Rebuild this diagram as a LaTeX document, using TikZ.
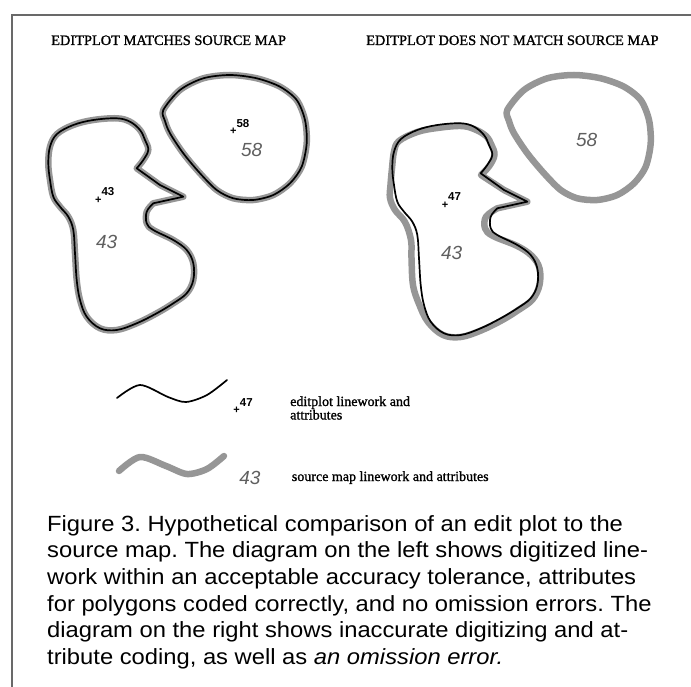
\documentclass[tikz,border=0pt]{standalone}
\usepackage{fontspec}
\setmainfont{Liberation Serif}
\setsansfont{Liberation Sans}
\newfontfamily\headfont[FakeBold=1.2]{Liberation Serif}
\newfontfamily\capfont[FakeStretch=1.08]{Liberation Sans}
\usetikzlibrary{positioning}
\definecolor{SrcGray}{RGB}{150,150,150}
\definecolor{NumGray}{RGB}{95,95,95}
\definecolor{FrameGray}{RGB}{105,105,105}
% polygon 58 (teardrop) and polygon 43 (with the beak)
\newcommand{\dropshape}{plot[smooth cycle] coordinates {(163.3,110) (180,90) (203.3,78.3) (230,75) (256.7,78.3) (280,86.7) (296.7,100) (305,120) (306.7,143.3) (301.7,166.7) (290,183.3) (273.3,195) (253.3,200) (233.3,198.3) (216.7,190) (200,173.3) (183.3,153.3) (170,133.3) (165,121)}}
\newcommand{\blobshape}{plot[smooth, tension=.6] coordinates {(153.3,203.3) (146.7,211.7) (146.7,223.3) (153.3,230) (173.3,240) (186.7,250) (193.3,263.3) (193.3,280) (186.7,293.3) (173.3,303.3) (156.7,313.3) (136.7,323.3) (116.7,330) (100,328.3) (86.7,316.7) (80,300) (76.7,280) (75,253.3) (73.3,230) (68.3,216.7) (60,206.7) (53.3,196.7) (50,180) (48.3,163.3) (50,146.7) (57,134) (73.3,125) (93.3,120) (116.7,118.3) (130,121.7) (140,130) (145,140) (148.3,150) (143.3,160) (136.7,168.3)} -- (160,185) -- (183.3,196.7) -- cycle}

\begin{document}
\begin{tikzpicture}[x=1pt,y=-1pt,
    source/.style={draw=SrcGray,line width=6.5pt,line join=round,line cap=round},
    edit/.style={draw=black,line width=1.7pt,line join=round,line cap=round},
    head/.style={font=\fontsize{14.4}{16}\headfont,inner sep=0pt},
    bignum/.style={font=\fontsize{19}{20}\sffamily\itshape,text=NumGray,inner sep=0pt},
    plusmk/.style={font=\fontsize{11}{12}\sffamily\bfseries,inner sep=0pt},
    idlab/.style={font=\fontsize{11.5}{12}\sffamily\bfseries,inner sep=0pt},
    legtxt/.style={font=\fontsize{14}{14}\headfont,inner sep=0pt},
    captxt/.style={font=\fontsize{22}{26.7}\capfont\frenchspacing,inner sep=0pt}]
  \useasboundingbox (0,0) rectangle (691,687);
  % frame
  \draw[FrameGray,line width=1.6pt] (12,687) -- (12,15) -- (691,15);

  \node[head,anchor=base west] (hleft) at (51,45) {EDITPLOT MATCHES SOURCE MAP};
  \node[head,anchor=base west] (hright) at (366,45) {EDITPLOT DOES NOT MATCH SOURCE MAP};

  % left: editplot matches source map
  \draw[source] \dropshape;
  \draw[edit] \dropshape;
  \draw[source] \blobshape;
  \draw[edit] \blobshape;
  \node[plusmk] (p43) at (98.3,200) {+};
  \node[idlab,anchor=base west] (l43) at ([xshift=3pt,yshift=4pt]p43.center) {43};
  \node[plusmk] (p58) at (233.3,131.7) {+};
  \node[idlab,anchor=base west] (l58) at ([xshift=3pt,yshift=4pt]p58.center) {58};
  \node[bignum] (n43) at (106.7,241.7) {43};
  \node[bignum] (n58) at (251.7,150) {58};

  % right: editplot does not match source map
  \begin{scope}[shift={(344,0)}]
    \draw[source] \dropshape;
  \end{scope}
  \draw[source] plot[smooth, tension=.6] coordinates {(497.3,208.3) (486,216.7) (485,228.3) (493,236) (517.3,246) (532,256) (539.5,268.3) (539.5,285) (532.5,299.5) (518.5,310) (501.5,320.5) (481,330.5) (460.7,337) (443,335) (428,322) (419,304) (413,285) (411.5,258) (411,240) (405,222) (395,210) (390,198) (390.5,185) (392,168.3) (394,151.7) (399,141) (417.3,132) (437.3,128) (460.7,126) (474,129) (486,136) (491.5,145) (494.5,155) (489.3,166) (481,175)} -- (504,190) -- (527.3,201.7) -- cycle;
  \begin{scope}[shift={(344,5)}]
    \draw[edit] \blobshape;
  \end{scope}
  \node[plusmk] (p47) at (445,205) {+};
  \node[idlab,anchor=base west] (l47) at ([xshift=3pt,yshift=4pt]p47.center) {47};
  \node[bignum] (m43) at (451.7,253.3) {43};
  \node[bignum] (m58) at (586.7,140) {58};

  % legend
  \draw[edit] plot[smooth] coordinates {(117,398) (140,385) (168,397) (186,402) (207,395) (227,380)};
  \node[plusmk] (lgp) at (236.7,410) {+};
  \node[idlab,anchor=base west] (lg47) at ([xshift=3pt,yshift=4pt]lgp.center) {47};
  \node[legtxt,anchor=base west] (ed1) at (290,406) {editplot linework and};
  \node[legtxt,anchor=base west] (ed2) at ([yshift=-13.5pt]ed1.base west) {attributes};
  \draw[source] plot[smooth] coordinates {(119,471) (140,457) (166,466) (187,474) (207,469) (224,456)};
  \node[bignum] (lg43) at (250,478.3) {43};
  \node[legtxt,anchor=base west] (src) at (291.7,481) {source map linework and attributes};

  % caption
  \foreach \ln [count=\i] in {{Figure 3. Hypothetical comparison of an edit plot to the},
      {source map. The diagram on the left shows digitized line-},
      {work within an acceptable accuracy tolerance, attributes},
      {for polygons coded correctly, and no omission errors. The},
      {diagram on the right shows inaccurate digitizing and at-},
      {tribute coding, as well as \textit{an omission error.}}}
    \node[captxt,anchor=base west] (cap\i) at (47,{531+26.7*(\i-1)}) {\ln};
\end{tikzpicture}
\end{document}
